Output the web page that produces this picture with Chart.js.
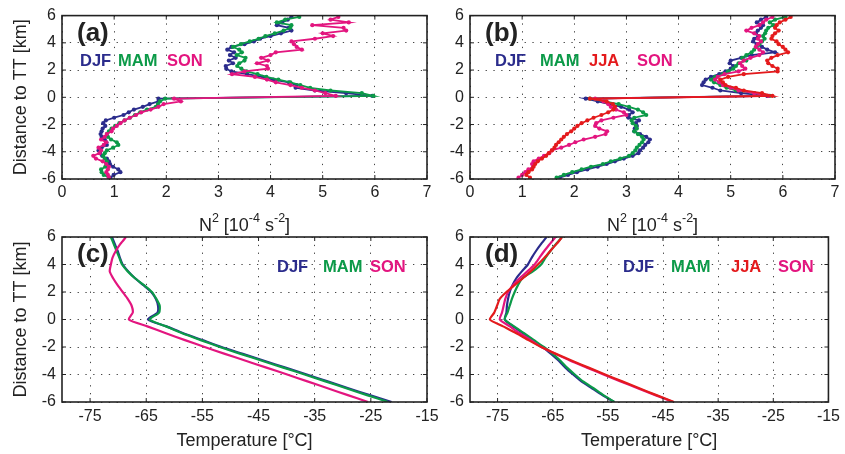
<!DOCTYPE html>
<html><head><meta charset="utf-8">
<script src="https://cdn.jsdelivr.net/npm/chart.js@4.4.1/dist/chart.umd.min.js"></script>
<style>
html,body{margin:0;padding:0;background:#fff;width:845px;height:454px;overflow:hidden;position:relative}
canvas{position:absolute}
</style></head><body>
<canvas id="ca" width="445" height="240" style="left:0;top:0;width:445px;height:240px"></canvas>
<canvas id="cb" width="425" height="240" style="left:420px;top:0;width:425px;height:240px"></canvas>
<canvas id="cc" width="445" height="234" style="left:0;top:220px;width:445px;height:234px"></canvas>
<canvas id="cd" width="425" height="234" style="left:420px;top:220px;width:425px;height:234px"></canvas>
<script>
// ---------- data ----------
const seasons = ['DJF', 'MAM', 'JJA', 'SON'];
const seasonColors = {DJF: '#2B2C8C', MAM: '#0B9A48', JJA: '#E41A1C', SON: '#E3157F'};

// heights (km relative to thermal tropopause) for N^2 profiles
const heightsN2 = [5.9,5.7,5.5,5.3,5.1,4.9,4.7,4.5,4.3,4.1,3.9,3.7,3.5,3.3,3.1,2.9,2.7,2.5,2.3,2.1,1.9,1.7,1.5,1.3,1.1,0.9,0.7,0.5,0.3,0.1,
  -0.1,-0.3,-0.5,-0.7,-0.9,-1.1,-1.3,-1.5,-1.7,-1.9,-2.1,-2.3,-2.5,-2.7,-2.9,-3.1,-3.3,-3.5,-3.7,-3.9,-4.1,-4.3,-4.5,-4.7,-4.9,-5.1,-5.3,-5.5,-5.7,-5.9];

// panel (a) N^2 [1e-4 s^-2]
const aDJF = [4.40,4.33,4.22,4.12,4.35,4.40,4.20,4.00,3.80,3.68,3.50,3.25,3.17,3.30,3.22,3.33,3.20,3.28,3.14,3.15,3.25,3.55,3.85,4.05,4.35,4.50,4.48,4.85,5.45,5.95,
  1.85,1.85,1.68,1.55,1.38,1.28,1.18,1.00,0.84,0.79,0.83,0.78,0.76,0.74,0.76,0.82,0.85,0.86,0.76,0.70,0.73,0.77,0.86,0.90,0.92,0.98,1.08,1.12,0.99,0.93];
const aMAM = [4.55,4.28,4.12,4.40,4.38,4.25,4.08,3.90,3.77,3.60,3.43,3.28,3.40,3.45,3.35,3.52,3.50,3.40,3.36,3.44,3.54,3.75,3.92,4.15,4.38,4.57,4.76,5.15,5.75,5.97,
  1.98,1.88,1.84,1.80,1.63,1.50,1.40,1.30,1.20,1.10,1.02,0.95,0.90,0.86,0.88,0.94,1.05,1.08,0.98,0.86,0.82,0.79,0.82,0.86,0.85,0.83,0.75,0.76,0.80,0.90];
const aSON = [5.30,5.15,5.50,4.80,5.40,5.45,5.00,5.20,4.85,4.40,4.45,4.50,4.60,4.10,4.00,3.82,3.95,3.74,3.93,3.95,3.50,3.26,3.70,3.93,4.10,4.38,4.60,4.85,5.05,5.25,
  2.15,2.28,1.95,1.85,1.70,1.52,1.42,1.30,1.20,1.12,1.05,0.98,0.95,0.86,0.82,0.75,0.85,0.80,0.70,0.75,0.72,0.60,0.65,0.78,0.85,0.90,0.88,0.85,0.88,0.90];

// panel (b) N^2 [1e-4 s^-2]
const bDJF = [5.68,5.58,5.50,5.62,5.58,5.52,5.48,5.53,5.45,5.43,5.50,5.60,5.70,5.85,5.40,5.20,5.00,4.98,5.05,5.00,4.90,4.78,4.62,4.52,4.48,4.45,4.65,4.80,5.20,5.70,
  2.22,2.45,2.68,2.90,3.05,3.12,3.05,3.04,3.24,3.18,3.20,3.16,3.15,3.26,3.38,3.45,3.42,3.36,3.32,3.26,3.23,3.12,2.95,2.78,2.62,2.45,2.25,2.05,1.88,1.72];
const bMAM = [6.05,5.85,5.75,5.82,5.72,5.68,5.66,5.62,5.65,5.60,5.55,5.50,5.45,5.40,5.30,5.22,5.30,5.15,5.10,5.05,4.95,4.85,4.70,4.62,4.68,4.80,4.92,5.10,5.45,5.75,
  2.30,2.58,2.85,3.05,3.22,3.32,3.38,3.15,3.10,3.12,3.18,3.20,3.15,3.22,3.30,3.33,3.30,3.25,3.20,3.17,3.12,3.05,2.88,2.70,2.55,2.32,2.14,1.96,1.80,1.66];
const bJJA = [6.15,6.05,5.94,5.88,5.85,5.92,5.85,5.80,5.78,5.88,5.92,6.00,6.05,6.10,5.90,5.78,5.70,5.72,5.80,5.90,5.90,5.25,4.95,4.80,4.85,4.90,5.10,5.25,5.60,5.80,
  2.30,2.62,2.74,2.78,2.75,2.65,2.52,2.37,2.25,2.14,2.06,2.00,1.94,1.86,1.80,1.75,1.70,1.65,1.62,1.57,1.51,1.46,1.38,1.30,1.25,1.22,1.19,1.12,1.08,1.15];
const bSON = [5.80,5.68,5.62,5.55,5.40,5.30,5.45,5.55,5.52,5.58,5.52,5.48,5.55,5.62,5.55,5.38,5.25,5.18,5.22,5.28,5.15,4.88,4.75,4.70,4.78,4.85,5.00,5.15,5.45,5.72,
  2.40,2.56,2.65,2.70,2.80,2.95,3.00,2.75,2.52,2.42,2.40,2.48,2.63,2.60,2.40,2.18,2.02,1.90,1.75,1.57,1.52,1.42,1.32,1.22,1.19,1.21,1.12,1.06,1.00,0.93];

// heights for temperature profiles
const heightsT = [6,5.5,5,4.5,4,3.5,3,2.5,2,1.5,1,0.5,0,-0.5,-1,-1.5,-2,-2.5,-3,-3.5,-4,-4.5,-5,-5.5,-6];

// panel (c) temperature [deg C]
const cDJF = [-71.1,-70.6,-70.1,-69.7,-69.2,-68.2,-67.0,-65.5,-64.1,-63.3,-62.9,-63.0,-64.7,-61.4,-58.4,-55.0,-51.6,-47.8,-44.0,-40.2,-36.4,-32.7,-29.0,-25.2,-21.3];
const cMAM = [-71.3,-70.8,-70.3,-69.8,-69.3,-68.3,-67.0,-65.4,-64.0,-63.2,-62.6,-62.7,-64.4,-61.5,-58.6,-55.3,-51.9,-48.2,-44.4,-40.6,-36.8,-33.1,-29.4,-25.7,-21.9];
const cSON = [-68.6,-69.6,-70.4,-71.0,-71.3,-71.5,-70.9,-70.1,-69.2,-68.3,-67.6,-67.4,-68.1,-64.8,-61.5,-58.1,-54.6,-51.0,-47.3,-43.6,-39.9,-36.3,-32.7,-29.1,-25.5];

// panel (d) temperature [deg C]
const dDJF = [-66.1,-67.1,-68.0,-68.8,-69.5,-70.6,-71.6,-72.3,-72.8,-73.1,-73.3,-73.4,-73.7,-72.2,-70.4,-68.6,-66.8,-65.3,-63.9,-62.7,-61.3,-59.8,-57.9,-56.0,-53.9];
const dMAM = [-63.3,-64.4,-65.4,-66.3,-67.1,-68.6,-70.5,-71.3,-71.9,-72.4,-72.8,-73.2,-73.7,-72.0,-70.2,-68.4,-66.6,-65.0,-63.6,-62.4,-61.0,-59.5,-57.6,-55.8,-53.8];
const dJJA = [-63.3,-64.3,-65.4,-66.5,-67.7,-69.0,-70.4,-71.9,-73.4,-74.6,-75.1,-75.6,-76.4,-74.0,-71.6,-69.4,-67.1,-64.4,-61.5,-58.5,-55.5,-52.4,-49.3,-46.2,-43.0];
const dSON = [-64.5,-65.5,-66.5,-67.4,-68.3,-69.6,-71.0,-72.2,-73.1,-73.6,-73.9,-74.2,-74.6,-72.8,-71.0,-69.0,-67.1,-64.5,-61.8,-58.8,-55.8,-52.7,-49.6,-46.4,-43.2];

// tick labels
const n2Ticks = [0,1,2,3,4,5,6,7];
const tempTicks = [-75,-65,-55,-45,-35,-25,-15];
const heightTicks = [-6,-4,-2,0,2,4,6];

const yTitle = 'Distance to TT [km]';
// N^2 title as pieces: [text, isSuperscript]
const n2TitleParts = [['N', false], ['2', true], [' [10', false], ['-4', true], [' s', false], ['-2', true], [']', false]];
const tTitle = 'Temperature [\u00B0C]';

// ---------- drawing ----------
const FONT = '"Liberation Sans", Arial, Helvetica, sans-serif';
const INK = '#222';

const deco = {
  id: 'deco',
  afterDatasetsDraw(chart, args, o) {
    const {ctx, chartArea: a, scales} = chart;
    ctx.save();
    ctx.strokeStyle = INK;
    ctx.lineWidth = 1;
    ctx.beginPath();
    scales.x.ticks.forEach(t => {
      const px = scales.x.getPixelForValue(t.value);
      ctx.moveTo(px, a.bottom); ctx.lineTo(px, a.bottom - 4);
      ctx.moveTo(px, a.top); ctx.lineTo(px, a.top + 4);
    });
    scales.y.ticks.forEach(t => {
      const py = scales.y.getPixelForValue(t.value);
      ctx.moveTo(a.left, py); ctx.lineTo(a.left + 4, py);
      ctx.moveTo(a.right, py); ctx.lineTo(a.right - 4, py);
    });
    ctx.stroke();
    ctx.lineWidth = 1.6;
    ctx.strokeRect(a.left, a.top, a.right - a.left, a.bottom - a.top);
    ctx.fillStyle = INK;
    ctx.textAlign = 'left';
    ctx.textBaseline = 'alphabetic';
    ctx.font = 'bold 26px ' + FONT;
    ctx.fillText(o.label, a.left + 15, a.top + o.labelDy);
    ctx.font = 'bold 16.5px ' + FONT;
    o.names.forEach((n, i) => {
      ctx.fillStyle = seasonColors[n];
      ctx.fillText(n, a.left + o.legendDx[i], a.top + o.legendDy);
    });
    // superscripted axis title
    if (o.parts) {
      const big = '18px ' + FONT, small = '12.5px ' + FONT;
      let w = 0;
      o.parts.forEach(([t, sup]) => { ctx.font = sup ? small : big; w += ctx.measureText(t).width; });
      let x = (a.left + a.right) / 2 - w / 2;
      const base = a.bottom + o.titleDy;
      ctx.fillStyle = INK;
      o.parts.forEach(([t, sup]) => {
        ctx.font = sup ? small : big;
        ctx.fillText(t, x, sup ? base - 9 : base);
        x += ctx.measureText(t).width;
      });
    }
    ctx.restore();
  }
};

function series(names, arrays, heights, orders, withPoints) {
  return names.map((n, i) => ({
    label: n,
    data: arrays[i].map((v, k) => ({x: v, y: heights[k]})),
    borderColor: seasonColors[n],
    backgroundColor: seasonColors[n],
    borderWidth: withPoints ? 1.8 : 2.2,
    pointRadius: withPoints ? 2.1 : 0,
    pointBorderWidth: 0,
    pointBackgroundColor: seasonColors[n],
    tension: withPoints ? 0 : 0.2,
    order: orders[i],
    fill: false
  }));
}

function makeChart(id, cfg) {
  return new Chart(document.getElementById(id), {
    type: 'line',
    data: {datasets: cfg.datasets},
    options: {
      responsive: false,
      animation: false,
      events: [],
      layout: {padding: cfg.padding},
      plugins: {legend: {display: false}, tooltip: {enabled: false}, deco: cfg.deco},
      scales: {
        x: {
          type: 'linear', min: cfg.xmin, max: cfg.xmax,
          afterBuildTicks: s => { s.ticks = cfg.xticks.map(v => ({value: v})); },
          afterFit: s => { s.height = cfg.xh; },
          grid: {color: '#444', lineWidth: 1, drawTicks: false},
          border: {display: false, dash: [1.3, 6.5]},
          ticks: {autoSkip: false, maxRotation: 0, padding: cfg.xpad, color: INK, font: {family: FONT, size: 16}},
          title: {display: !!cfg.xtitle, text: cfg.xtitle || '', color: INK, font: {family: FONT, size: 18}, padding: {top: 0, bottom: cfg.xtpad}}
        },
        y: {
          type: 'linear', min: -6, max: 6,
          afterBuildTicks: s => { s.ticks = heightTicks.map(v => ({value: v})); },
          afterFit: s => { s.width = cfg.yw; },
          grid: {color: '#444', lineWidth: 1, drawTicks: false},
          border: {display: false, dash: [1.3, 6.5]},
          ticks: {autoSkip: false, padding: 6, color: INK, font: {family: FONT, size: 16}},
          title: {display: cfg.ytitle, text: yTitle, color: INK, font: {family: FONT, size: 18}, padding: {top: 10, bottom: 0}}
        }
      }
    },
    plugins: [deco]
  });
}

makeChart('ca', {
  datasets: series(['DJF','MAM','SON'], [aDJF, aMAM, aSON], heightsN2, [2,1,0], true),
  padding: {left: 0, top: 13, right: 18, bottom: 0},
  xmin: 0, xmax: 7, xticks: n2Ticks, xh: 61, xpad: 4, xtitle: null, xtpad: 4, yw: 62, ytitle: true,
  deco: {label: '(a)', labelDy: 25.5, names: ['DJF','MAM','SON'], legendDx: [18, 56, 105], legendDy: 50, parts: n2TitleParts, titleDy: 52}
});
makeChart('cb', {
  datasets: series(['DJF','MAM','JJA','SON'], [bDJF, bMAM, bJJA, bSON], heightsN2, [3,2,0,1], true),
  padding: {left: 0, top: 13, right: 10, bottom: 0},
  xmin: 0, xmax: 7, xticks: n2Ticks, xh: 61, xpad: 4, xtitle: null, xtpad: 4, yw: 50, ytitle: false,
  deco: {label: '(b)', labelDy: 25.5, names: ['DJF','MAM','JJA','SON'], legendDx: [25, 70, 119, 167], legendDy: 50, parts: n2TitleParts, titleDy: 52}
});
makeChart('cc', {
  datasets: series(['DJF','MAM','SON'], [cDJF, cMAM, cSON], heightsT, [2,1,0], false),
  padding: {left: 0, top: 17, right: 18, bottom: 0},
  xmin: -80, xmax: -15, xticks: tempTicks, xh: 52, xpad: 5, xtitle: tTitle, xtpad: 2, yw: 62, ytitle: true,
  deco: {label: '(c)', labelDy: 24.5, names: ['DJF','MAM','SON'], legendDx: [215, 261, 308], legendDy: 34.7}
});
makeChart('cd', {
  datasets: series(['DJF','MAM','JJA','SON'], [dDJF, dMAM, dJJA, dSON], heightsT, [3,2,0,1], false),
  padding: {left: 0, top: 17, right: 11, bottom: 0},
  xmin: -80, xmax: -15, xticks: tempTicks, xh: 52, xpad: 5, xtitle: tTitle, xtpad: 2, yw: 50, ytitle: false,
  deco: {label: '(d)', labelDy: 24.5, names: ['DJF','MAM','JJA','SON'], legendDx: [153, 201, 261, 308], legendDy: 34.7}
});
</script>
</body></html>
